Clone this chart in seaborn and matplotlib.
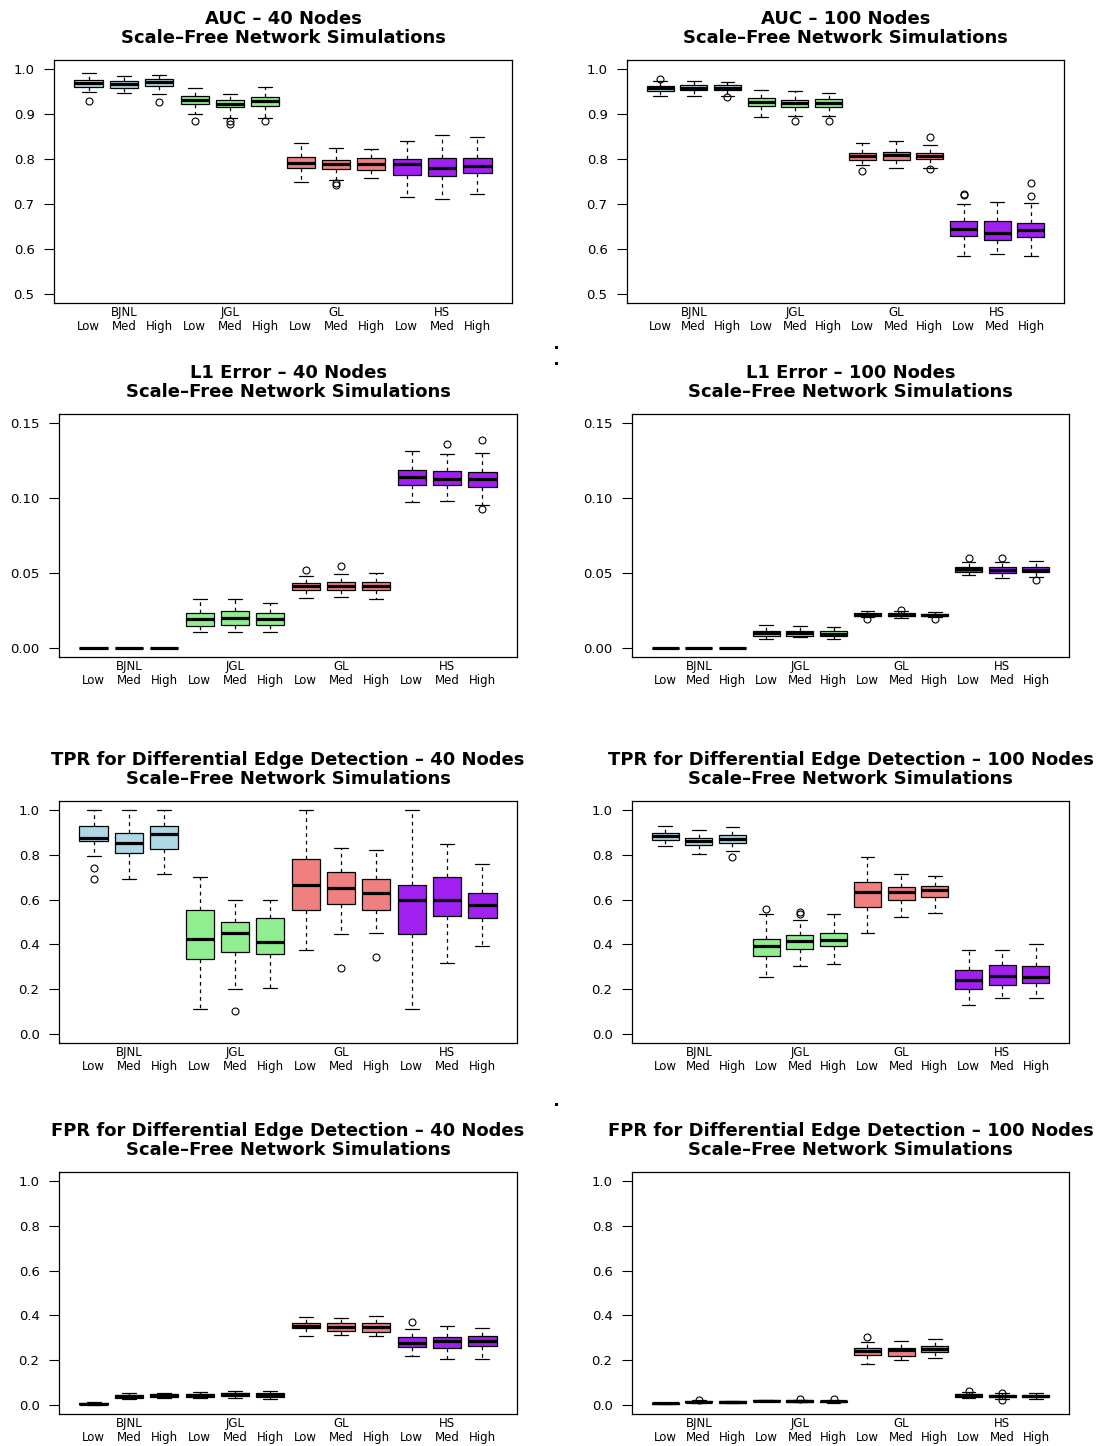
"""
Boxplot grid: BJNL / JGL / GL / HS under three sparsity levels,
scale-free network simulations (40 and 100 nodes).
"""

import matplotlib
matplotlib.use("Agg")
import matplotlib.pyplot as plt
import matplotlib.transforms as mtransforms
from matplotlib.patches import Rectangle
import seaborn as sns

# data: each box is (lower whisker, q1, median, q3, upper whisker)
methods = ["BJNL", "JGL", "GL", "HS"]
levels = ["Low", "Med", "High"]

auc40_box = [
    (0.949, 0.961, 0.968, 0.975, 0.992), (0.946, 0.958, 0.966, 0.974, 0.985),
    (0.945, 0.963, 0.971, 0.977, 0.987), (0.899, 0.923, 0.932, 0.941, 0.958),
    (0.892, 0.916, 0.923, 0.932, 0.944), (0.892, 0.918, 0.928, 0.938, 0.961),
    (0.750, 0.780, 0.792, 0.805, 0.835), (0.754, 0.777, 0.789, 0.798, 0.825),
    (0.758, 0.775, 0.789, 0.803, 0.822), (0.715, 0.765, 0.789, 0.800, 0.840),
    (0.711, 0.763, 0.781, 0.803, 0.853), (0.722, 0.769, 0.785, 0.803, 0.849),
]
auc40_out = [[0.930], [], [0.926], [0.884], [0.884, 0.878], [0.884],
             [], [0.746, 0.743], [], [], [], []]

auc100_box = [
    (0.941, 0.952, 0.957, 0.963, 0.973), (0.941, 0.953, 0.958, 0.964, 0.974),
    (0.941, 0.953, 0.958, 0.964, 0.972), (0.893, 0.917, 0.927, 0.936, 0.953),
    (0.895, 0.915, 0.924, 0.932, 0.952), (0.896, 0.916, 0.924, 0.933, 0.946),
    (0.787, 0.798, 0.807, 0.813, 0.836), (0.780, 0.798, 0.808, 0.816, 0.839),
    (0.780, 0.800, 0.807, 0.814, 0.832), (0.585, 0.628, 0.644, 0.662, 0.701),
    (0.590, 0.620, 0.636, 0.662, 0.704), (0.585, 0.626, 0.642, 0.658, 0.702),
]
auc100_out = [[0.978], [], [0.938], [], [0.885], [0.885],
              [0.774], [], [0.848, 0.777], [0.723, 0.719], [], [0.746, 0.717]]

l140_box = [
    (0.0, 0.0, 0.0, 0.0, 0.0), (0.0, 0.0, 0.0, 0.0, 0.0),
    (0.0, 0.0, 0.0, 0.0, 0.0), (0.0105, 0.0145, 0.0190, 0.0234, 0.0324),
    (0.0109, 0.0154, 0.0199, 0.0248, 0.0328), (0.0109, 0.0152, 0.0194, 0.0234, 0.0297),
    (0.0330, 0.0384, 0.0413, 0.0435, 0.0478), (0.0337, 0.0388, 0.0415, 0.0442, 0.0496),
    (0.0324, 0.0386, 0.0413, 0.0442, 0.0502), (0.0973, 0.1085, 0.1141, 0.1185, 0.1313),
    (0.0978, 0.1085, 0.1129, 0.1179, 0.1295), (0.0955, 0.1074, 0.1125, 0.1170, 0.1299),
]
l140_out = [[], [], [], [], [], [], [0.0522], [0.0547], [], [],
            [0.1357], [0.1388, 0.0929]]

l1100_box = [
    (0.0, 0.0, 0.0, 0.0, 0.0), (0.0, 0.0, 0.0, 0.0, 0.0),
    (0.0, 0.0, 0.0, 0.0, 0.0), (0.0063, 0.0080, 0.0098, 0.0114, 0.0150),
    (0.0071, 0.0080, 0.0098, 0.0114, 0.0145), (0.0060, 0.0078, 0.0096, 0.0112, 0.0143),
    (0.0205, 0.0212, 0.0221, 0.0230, 0.0246), (0.0203, 0.0212, 0.0221, 0.0230, 0.0246),
    (0.0205, 0.0212, 0.0219, 0.0228, 0.0237), (0.0484, 0.0507, 0.0525, 0.0542, 0.0576),
    (0.0469, 0.0502, 0.0522, 0.0540, 0.0576), (0.0475, 0.0504, 0.0520, 0.0538, 0.0578),
]
l1100_out = [[], [], [], [], [], [], [0.0194], [0.0254], [0.0194],
             [0.0600], [0.0600], [0.0451]]

tpr40_box = [
    (0.793, 0.863, 0.877, 0.929, 1.000), (0.691, 0.807, 0.854, 0.897, 1.000),
    (0.715, 0.828, 0.893, 0.930, 1.000), (0.113, 0.333, 0.422, 0.554, 0.700),
    (0.201, 0.368, 0.452, 0.499, 0.600), (0.207, 0.357, 0.410, 0.516, 0.600),
    (0.374, 0.554, 0.667, 0.780, 1.000), (0.446, 0.579, 0.651, 0.722, 0.832),
    (0.450, 0.554, 0.630, 0.691, 0.823), (0.113, 0.446, 0.600, 0.666, 1.000),
    (0.316, 0.527, 0.600, 0.700, 0.850), (0.392, 0.517, 0.574, 0.629, 0.761),
]
tpr40_out = [[0.741, 0.691], [], [], [], [0.105], [], [], [0.294], [0.345],
             [], [], []]

tpr100_box = [
    (0.837, 0.868, 0.884, 0.896, 0.929), (0.805, 0.844, 0.863, 0.874, 0.909),
    (0.816, 0.851, 0.871, 0.889, 0.926), (0.254, 0.349, 0.395, 0.426, 0.535),
    (0.303, 0.379, 0.413, 0.441, 0.508), (0.314, 0.394, 0.418, 0.453, 0.535),
    (0.450, 0.566, 0.634, 0.678, 0.790), (0.522, 0.599, 0.632, 0.657, 0.712),
    (0.542, 0.612, 0.645, 0.660, 0.707), (0.129, 0.201, 0.239, 0.288, 0.377),
    (0.163, 0.217, 0.260, 0.306, 0.374), (0.160, 0.227, 0.253, 0.302, 0.404),
]
tpr100_out = [[], [], [0.789], [0.560], [0.544, 0.536], [], [], [], [],
              [], [], []]

fpr40_box = [
    (0.002, 0.003, 0.006, 0.010, 0.012), (0.028, 0.033, 0.040, 0.046, 0.055),
    (0.031, 0.036, 0.045, 0.051, 0.055), (0.030, 0.037, 0.045, 0.051, 0.058),
    (0.031, 0.039, 0.048, 0.055, 0.061), (0.025, 0.037, 0.043, 0.052, 0.064),
    (0.306, 0.342, 0.352, 0.364, 0.392), (0.311, 0.330, 0.349, 0.366, 0.388),
    (0.308, 0.327, 0.348, 0.367, 0.398), (0.217, 0.257, 0.279, 0.302, 0.339),
    (0.204, 0.254, 0.285, 0.305, 0.354), (0.204, 0.263, 0.287, 0.306, 0.346),
]
fpr40_out = [[], [], [], [], [], [], [], [], [], [0.370], [], []]

fpr100_box = [
    (0.004, 0.005, 0.007, 0.009, 0.010), (0.009, 0.012, 0.015, 0.018, 0.021),
    (0.008, 0.010, 0.013, 0.016, 0.018), (0.016, 0.018, 0.019, 0.022, 0.024),
    (0.012, 0.015, 0.018, 0.021, 0.023), (0.011, 0.013, 0.016, 0.019, 0.022),
    (0.183, 0.224, 0.241, 0.254, 0.282), (0.201, 0.221, 0.245, 0.256, 0.287),
    (0.210, 0.235, 0.251, 0.263, 0.294), (0.031, 0.037, 0.043, 0.051, 0.056),
    (0.028, 0.034, 0.040, 0.046, 0.052), (0.027, 0.034, 0.039, 0.045, 0.055),
]
fpr100_out = [[], [0.022], [], [], [0.028], [0.027], [0.303], [], [],
              [0.064], [0.055, 0.022], []]

auc_ticks = [0.5, 0.6, 0.7, 0.8, 0.9, 1.0]
l1_ticks = [0.00, 0.05, 0.10, 0.15]
rate_ticks = [0.0, 0.2, 0.4, 0.6, 0.8, 1.0]

sns.set_style("white")
plt.rcParams["font.family"] = ["DejaVu Sans"]
plt.rcParams["text.color"] = "black"
plt.rcParams["xtick.color"] = "black"
plt.rcParams["ytick.color"] = "black"
plt.rcParams["axes.titlecolor"] = "black"
group_colors = sns.color_palette(["#ADD8E6", "#90EE90", "#F08080", "#A020F0"])

W, H = 1106, 1446
fig = plt.figure(figsize=(W / 100, H / 100), dpi=100)


def add_panel(px_left, px_right, px_top, px_bottom, boxes, outs, ticks, fmt, title):
    ax = fig.add_axes([px_left / W, 1 - px_bottom / H,
                       (px_right - px_left) / W, (px_bottom - px_top) / H])
    stats = [
        {"whislo": b[0], "q1": b[1], "med": b[2], "q3": b[3], "whishi": b[4],
         "fliers": f}
        for b, f in zip(boxes, outs)
    ]
    positions = list(range(1, len(stats) + 1))
    art = ax.bxp(
        stats,
        positions=positions,
        widths=0.8,
        capwidths=0.4,
        patch_artist=True,
        boxprops=dict(edgecolor="black", linewidth=0.9),
        whiskerprops=dict(color="black", linewidth=0.9, linestyle=(0, (3, 3))),
        capprops=dict(color="black", linewidth=0.9),
        medianprops=dict(color="black", linewidth=2.3),
        flierprops=dict(marker="o", markerfacecolor="none",
                        markeredgecolor="black", markersize=5, markeredgewidth=0.8),
    )
    for i, patch in enumerate(art["boxes"]):
        patch.set_facecolor(group_colors[i // 3])

    lo, hi = ticks[0], ticks[-1]
    pad = (hi - lo) * 0.04
    ax.set_ylim(lo - pad, hi + pad)
    ax.set_xlim(0.02, 12.98)
    ax.set_yticks(ticks, [fmt.format(t) for t in ticks])
    ax.tick_params(axis="y", length=7, width=0.8, pad=7, labelsize=9.5,
                   left=True, color="black")
    ax.set_xticks(positions, levels * 4)
    ax.tick_params(axis="x", length=0, pad=12, labelsize=8.5)
    for s in ax.spines.values():
        s.set_color("black")
        s.set_linewidth(0.9)

    trans = mtransforms.blended_transform_factory(ax.transData, ax.transAxes)
    for j, m in enumerate(methods):
        ax.annotate(m, xy=(3 * j + 2, 0), xycoords=trans, xytext=(0, -6.5),
                    textcoords="offset points", ha="center", va="center",
                    fontsize=8.5)
    ax.set_title(title, fontsize=13, fontweight="bold", pad=12, linespacing=1.1)
    return ax


sub = "\nScale–Free Network Simulations"
add_panel(54, 512, 60, 303, auc40_box, auc40_out, auc_ticks, "{:.1f}",
          "AUC – 40 Nodes" + sub)
add_panel(627, 1064, 60, 303, auc100_box, auc100_out, auc_ticks, "{:.1f}",
          "AUC – 100 Nodes" + sub)
add_panel(59, 517, 414, 657, l140_box, l140_out, l1_ticks, "{:.2f}",
          "L1 Error – 40 Nodes" + sub)
add_panel(632, 1069, 414, 657, l1100_box, l1100_out, l1_ticks, "{:.2f}",
          "L1 Error – 100 Nodes" + sub)
add_panel(59, 517, 801, 1043, tpr40_box, tpr40_out, rate_ticks, "{:.1f}",
          "TPR for Differential Edge Detection – 40 Nodes" + sub)
add_panel(632, 1069, 801, 1043, tpr100_box, tpr100_out, rate_ticks, "{:.1f}",
          "TPR for Differential Edge Detection – 100 Nodes" + sub)
add_panel(59, 517, 1172, 1414, fpr40_box, fpr40_out, rate_ticks, "{:.1f}",
          "FPR for Differential Edge Detection – 40 Nodes" + sub)
add_panel(632, 1069, 1172, 1414, fpr100_box, fpr100_out, rate_ticks, "{:.1f}",
          "FPR for Differential Edge Detection – 100 Nodes" + sub)

# small stray dots between panels in the original figure
for dx, dy in [(556, 347), (556, 363), (556, 1104)]:
    fig.add_artist(Rectangle(((dx - 1.5) / W, 1 - (dy + 1.5) / H), 3 / W, 3 / H,
                             transform=fig.transFigure, color="black", lw=0))

fig.savefig("out.png", dpi=100)
plt.close(fig)
